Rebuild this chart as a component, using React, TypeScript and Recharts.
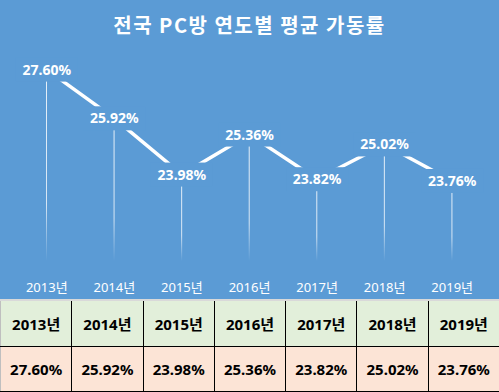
import React from "react";
import { ComposedChart, Bar, Line, XAxis, YAxis, LabelList } from "recharts";

// 연도별 평균 가동률 (%)
const years = ["2013년", "2014년", "2015년", "2016년", "2017년", "2018년", "2019년"];
const rates = [27.6, 25.92, 23.98, 25.36, 23.82, 25.02, 23.76];
const yDomain = [21, 28];

const BLUE = "#5B9BD5";
const LABEL_FONT = "'Noto Sans', 'Noto Sans CJK KR', sans-serif";

const data = years.map((year, i) => ({ year, rate: rates[i] }));

const fmt = (v: number) => `${v.toFixed(2)}%`;

// Excel-style centered label: a blue box hides the line under the text
function PointLabel(props: any) {
  const { x, y, value } = props;
  if (x == null || y == null) return null;
  return (
    <g>
      <rect x={x - 31} y={y - 12} width={62} height={24} fill={BLUE} />
      <text
        x={x}
        y={y}
        dy={5}
        textAnchor="middle"
        fill="#fff"
        fontSize={14}
        fontWeight={700}
        style={{ fontFamily: LABEL_FONT }}
      >
        {fmt(Number(value))}
      </text>
    </g>
  );
}

function YearTick(props: any) {
  const { x, y, payload } = props;
  return (
    <text
      x={x}
      y={y}
      dy="0.71em"
      textAnchor="middle"
      fill="#fff"
      fontSize={13}
      style={{ fontFamily: LABEL_FONT }}
    >
      {payload.value}
    </text>
  );
}

const cellBase: React.CSSProperties = {
  flex: 1,
  display: "flex",
  alignItems: "center",
  justifyContent: "center",
  fontFamily: LABEL_FONT,
  fontWeight: 700,
  fontSize: 15,
  color: "#000",
};

function TableRow({ cells, bg, height }: { cells: string[]; bg: string; height: number }) {
  return (
    <div style={{ display: "flex", height, background: bg }}>
      {cells.map((c, i) => (
        <div
          key={i}
          style={{
            ...cellBase,
            borderLeft: i === 0 ? "1px solid #bfbfbf" : "1px solid #000",
          }}
        >
          {c}
        </div>
      ))}
    </div>
  );
}

export default function App() {
  return (
    <div style={{ position: "absolute", left: 0, top: 0, width: 499, height: 392, overflow: "hidden" }}>
      <div style={{ position: "relative", width: 499, height: 299, background: BLUE }}>
        <div
          style={{
            position: "absolute",
            top: 12,
            left: 0,
            width: 499,
            textAlign: "center",
            color: "#fff",
            fontSize: 20,
            lineHeight: "26px",
            fontWeight: 700,
            letterSpacing: 1.5,
            fontFamily: "'Noto Sans CJK KR', sans-serif",
          }}
        >
          전국 PC방 연도별 평균 가동률
        </div>
        <ComposedChart
          width={499}
          height={299}
          data={data}
          margin={{ top: 58, right: 13, bottom: 0, left: 13 }}
        >
          <defs>
            <linearGradient id="drop" x1="0" y1="0" x2="0" y2="1">
              <stop offset="0%" stopColor="#fff" stopOpacity={0.85} />
              <stop offset="70%" stopColor="#fff" stopOpacity={0.75} />
              <stop offset="100%" stopColor="#fff" stopOpacity={0} />
            </linearGradient>
          </defs>
          <XAxis
            dataKey="year"
            axisLine={false}
            tickLine={false}
            height={38}
            tickMargin={16}
            tick={<YearTick />}
            interval={0}
          />
          <YAxis hide domain={yDomain} allowDataOverflow />
          <Bar dataKey="rate" barSize={1} fill="url(#drop)" isAnimationActive={false} />
          <Line
            dataKey="rate"
            type="linear"
            stroke="#fff"
            strokeWidth={3.5}
            dot={false}
            activeDot={false}
            isAnimationActive={false}
          >
            <LabelList dataKey="rate" content={<PointLabel />} />
          </Line>
        </ComposedChart>
      </div>
      <div style={{ height: 2, background: "#d9d9d9" }} />
      <TableRow cells={years} bg="#E2EFDA" height={45} />
      <div style={{ height: 1, background: "#000" }} />
      <TableRow cells={rates.map(fmt)} bg="#FCE4D6" height={44} />
      <div style={{ height: 1, background: "#000" }} />
    </div>
  );
}
